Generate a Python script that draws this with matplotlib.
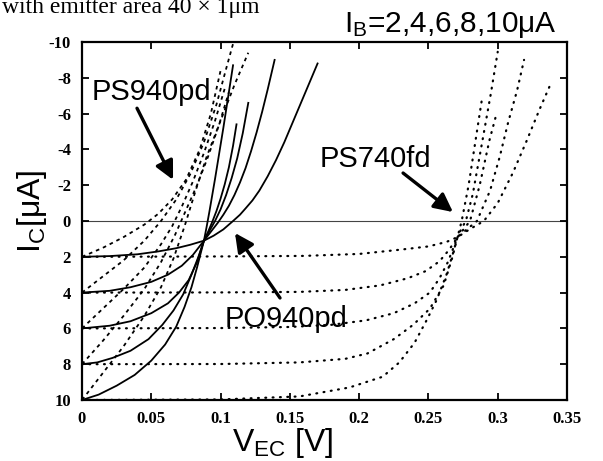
import matplotlib
matplotlib.use("Agg")
import matplotlib.pyplot as plt

plt.rcParams["axes.unicode_minus"] = False
plt.rcParams["mathtext.fontset"] = "custom"
plt.rcParams["mathtext.rm"] = "Liberation Sans"
plt.rcParams["mathtext.it"] = "Liberation Sans:italic"

# base currents (uA) of the five curves in each family
base_currents = [2, 4, 6, 8, 10]

# PO940pd (solid): V_EC [V] and I_C [uA] for IB = 2, 4, 6, 8, 10
po940pd_v = [
    [0, 0.02, 0.04, 0.055, 0.068, 0.078, 0.088, 0.095, 0.102, 0.109, 0.114, 0.118, 0.123,
     0.128, 0.134, 0.140, 0.146, 0.152, 0.158, 0.164, 0.170],
    [0, 0.02, 0.035, 0.05, 0.062, 0.072, 0.080, 0.088, 0.093, 0.098, 0.102, 0.106, 0.110,
     0.114, 0.118, 0.122, 0.126, 0.130, 0.134, 0.139],
    [0, 0.02, 0.035, 0.05, 0.062, 0.070, 0.077, 0.083, 0.088, 0.092, 0.096, 0.100, 0.104,
     0.108, 0.112, 0.116, 0.120],
    [0, 0.011, 0.022, 0.035, 0.048, 0.058, 0.066, 0.073, 0.079, 0.084, 0.088, 0.091, 0.094,
     0.097, 0.100, 0.103, 0.106, 0.109, 0.1115],
    [0, 0.012, 0.025, 0.038, 0.05, 0.06, 0.068, 0.074, 0.079, 0.083, 0.086, 0.088, 0.090,
     0.092, 0.094, 0.096, 0.098, 0.100, 0.102, 0.104, 0.106, 0.108, 0.109],
]
po940pd_i = [
    [2, 1.96, 1.86, 1.7, 1.52, 1.33, 1.1, 0.82, 0.47, 0.0, -0.35, -0.7, -1.15,
     -1.7, -2.5, -3.4, -4.4, -5.5, -6.6, -7.7, -8.8],
    [4, 3.9, 3.7, 3.4, 3.0, 2.5, 1.9, 1.1, 0.6, 0.1, -0.35, -0.85, -1.45,
     -2.15, -2.95, -3.9, -4.95, -6.1, -7.35, -9.0],
    [6, 5.85, 5.6, 5.15, 4.6, 4.0, 3.3, 2.3, 1.1, 0.55, 0.0, -0.65, -1.45,
     -2.4, -3.5, -4.9, -6.6],
    [8, 7.9, 7.65, 7.25, 6.6, 5.8, 5.0, 4.1, 3.0, 2.0, 1.1, 0.6, 0.05,
     -0.55, -1.25, -2.05, -3.0, -4.2, -5.4],
    [10, 9.7, 9.2, 8.6, 7.8, 6.9, 5.9, 4.8, 3.7, 2.6, 1.7, 1.1, 0.3,
     -0.55, -1.45, -2.35, -3.3, -4.25, -5.2, -6.2, -7.2, -8.2, -8.7],
]

# PS940pd (dashed)
ps940pd_v = [
    [0, 0.015, 0.03, 0.045, 0.055, 0.065, 0.075, 0.085, 0.093, 0.100],
    [0, 0.015, 0.03, 0.045, 0.057, 0.068, 0.078, 0.088, 0.097, 0.104, 0.109],
    [0, 0.015, 0.03, 0.045, 0.057, 0.065, 0.072, 0.080, 0.088, 0.096, 0.103],
    [0, 0.015, 0.03, 0.045, 0.057, 0.067, 0.075, 0.083, 0.091, 0.099, 0.106],
    [0, 0.015, 0.03, 0.045, 0.057, 0.066, 0.074, 0.082, 0.090, 0.100, 0.110, 0.120],
]
ps940pd_i = [
    [2, 1.5, 0.9, 0.2, -0.4, -1.2, -2.3, -4.0, -6.0, -8.4],
    [4, 3.1, 2.2, 1.1, 0.0, -1.2, -2.6, -4.4, -6.5, -8.5, -9.9],
    [6, 4.9, 3.8, 2.6, 1.3, 0.3, -0.8, -2.2, -3.8, -5.6, -7.4],
    [8, 6.7, 5.3, 3.8, 2.3, 0.8, -0.6, -2.0, -3.6, -5.4, -7.2],
    [10, 8.5, 7.0, 5.3, 3.7, 2.1, 0.3, -1.7, -3.6, -5.6, -7.6, -9.4],
]

# PS740fd (dotted)
ps740fd_v = [
    [0, 0.1, 0.16, 0.2, 0.23, 0.25, 0.263, 0.271, 0.28, 0.29, 0.300, 0.311, 0.321, 0.330, 0.339],
    [0, 0.1, 0.157, 0.19, 0.215, 0.235, 0.248, 0.258, 0.265, 0.271, 0.278, 0.285, 0.2945,
     0.3015, 0.3075, 0.314, 0.319],
    [0, 0.1, 0.15, 0.18, 0.205, 0.225, 0.240, 0.251, 0.258, 0.264, 0.268, 0.271, 0.276,
     0.280, 0.287, 0.294, 0.2995],
    [0, 0.1, 0.157, 0.19, 0.206, 0.225, 0.239, 0.251, 0.261, 0.267, 0.271, 0.274, 0.277,
     0.282, 0.289, 0.295, 0.300],
    [0, 0.1, 0.157, 0.193, 0.217, 0.229, 0.240, 0.249, 0.256, 0.263, 0.267, 0.271, 0.274,
     0.279, 0.284, 0.289],
]
ps740fd_i = [
    [2, 1.98, 1.95, 1.84, 1.6, 1.42, 1.17, 0.9, 0.45, 0.0, -1.0, -2.7, -4.5, -6.2, -7.8],
    [4, 3.99, 3.96, 3.85, 3.6, 3.2, 2.8, 2.25, 1.6, 0.9, 0.45, 0.0, -1.7, -3.6, -5.5, -7.3, -9.0],
    [6, 5.98, 5.92, 5.8, 5.55, 5.15, 4.6, 4.0, 3.2, 2.3, 1.5, 0.9, 0.4, 0.0, -2.0, -4.5, -6.1],
    [8, 7.99, 7.9, 7.7, 7.4, 6.6, 5.8, 4.9, 3.6, 2.1, 0.9, 0.4, 0.0, -1.5, -4.5, -7.1, -9.45],
    [10, 9.97, 9.8, 9.3, 8.7, 7.9, 6.8, 5.5, 4.4, 3.0, 2.0, 0.9, 0.0, -2.0, -4.5, -7.0],
]

x_ticks = [0, 0.05, 0.1, 0.15, 0.2, 0.25, 0.3, 0.35]
x_tick_labels = ["0", "0.05", "0.1", "0.15", "0.2", "0.25", "0.3", "0.35"]
y_ticks = [-10, -8, -6, -4, -2, 0, 2, 4, 6, 8, 10]
y_tick_labels = ["-10", "-8", "-6", "-4", "-2", "0", "2", "4", "6", "8", "10"]

fig = plt.figure(figsize=(6.03, 4.61), dpi=100)
ax = fig.add_axes([82 / 603, 1 - 400 / 461, 485 / 603, 358 / 461])

ax.axhline(0, color="#444444", lw=0.8, zorder=1)

for v, i in zip(po940pd_v, po940pd_i):
    ax.plot(v, i, color="black", lw=1.3, solid_joinstyle="round", zorder=3)
for v, i in zip(ps940pd_v, ps940pd_i):
    ax.plot(v, i, color="black", lw=1.3, linestyle=(0, (2.0, 2.2)), zorder=3)
for v, i in zip(ps740fd_v, ps740fd_i):
    ax.plot(v, i, color="black", lw=1.6, linestyle=(0, (0.4, 2.9)),
            dash_capstyle="round", zorder=3)

ax.set_xlim(0, 0.35)
ax.set_ylim(10, -10)
ax.set_xticks(x_ticks)
ax.set_xticklabels(x_tick_labels)
ax.set_yticks(y_ticks)
ax.set_yticklabels(y_tick_labels)
ax.tick_params(direction="in", length=5, width=1.3, top=True, right=True,
               labelsize=12, pad=8)
for lab in ax.get_xticklabels() + ax.get_yticklabels():
    lab.set_fontfamily("Liberation Serif")
    lab.set_fontweight("bold")
for sp in ax.spines.values():
    sp.set_linewidth(1.6)

sans = "Liberation Sans"
arrow = dict(arrowstyle="-|>", lw=2.4, mutation_scale=28, color="black",
             shrinkA=0, shrinkB=0)

ax.annotate("", xy=(0.0657, -2.3), xytext=(0.0397, -6.3), arrowprops=arrow, zorder=4)
ax.text(0.0502, -6.76, "PS940pd", fontsize=21, family=sans, ha="center",
        va="baseline", zorder=5)

ax.annotate("", xy=(0.2677, -0.5), xytext=(0.2317, -2.68), arrowprops=arrow, zorder=4)
ax.text(0.2118, -3.03, "PS740fd", fontsize=21, family=sans, ha="center",
        va="baseline", zorder=5)

ax.annotate("", xy=(0.1104, 0.67), xytext=(0.1429, 4.3), arrowprops=arrow, zorder=4)
ax.text(0.1472, 5.92, "PO940pd", fontsize=21, family=sans, ha="center",
        va="baseline", zorder=5)

fig.text(557 / 603, 1 - 32 / 461, r"$\mathrm{I_B}$=2,4,6,8,10μA", fontsize=21.5,
         family=sans, ha="right", va="baseline")
fig.text(2 / 603, 1 - 13 / 461, "with emitter area 40 × 1μm", fontsize=17,
         family="Liberation Serif", ha="left", va="baseline")
fig.text(283 / 603, 1 - 451 / 461, r"$\mathrm{V_{EC}}$ [V]", fontsize=23,
         family=sans, ha="center", va="baseline")
fig.text(32 / 603, 1 - 211 / 461, r"$\mathrm{I_C}$[μA]", fontsize=23,
         family=sans, ha="center", va="center", rotation=90)

fig.savefig("out.png", dpi=100)
